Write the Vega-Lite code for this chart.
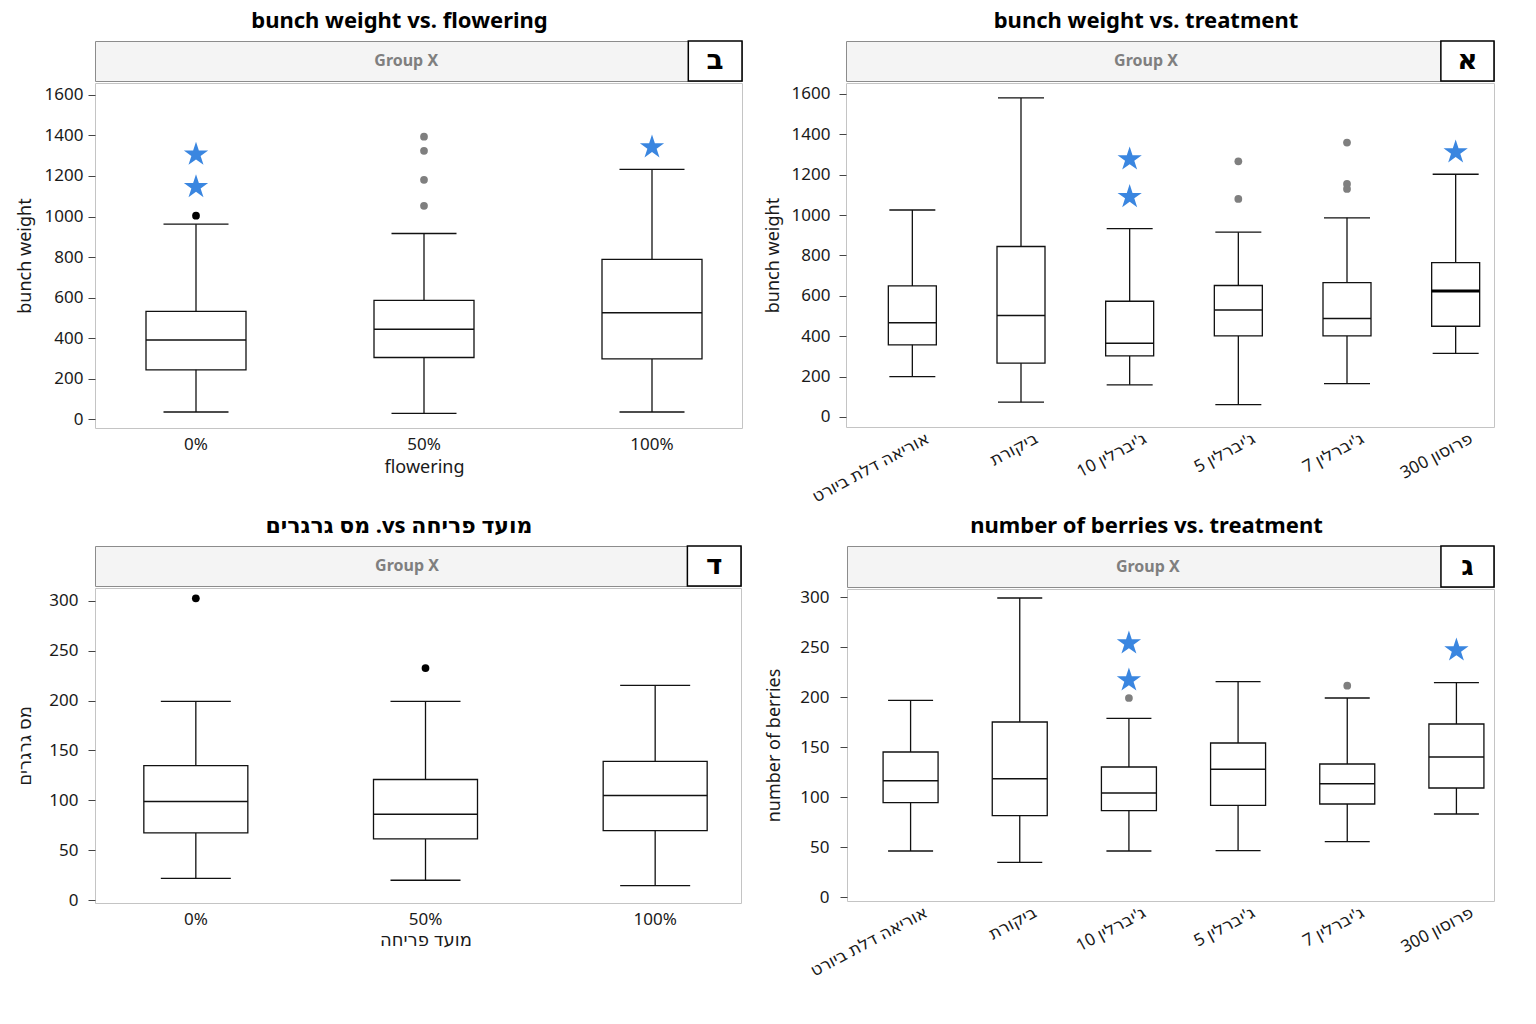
{
  "$schema": "https://vega.github.io/schema/vega-lite/v6.json",
  "background": "white",
  "padding": {"left": 15, "top": 9, "right": 5, "bottom": 5},
  "datasets": {
    "bwf_box": [
      {"group": "0%", "low": 35, "q1": 243, "median": 391, "q3": 532, "high": 962},
      {"group": "50%", "low": 28, "q1": 304, "median": 444, "q3": 586, "high": 916},
      {"group": "100%", "low": 35, "q1": 297, "median": 525, "q3": 788, "high": 1233}
    ],
    "bwf_out": [
      {"group": "0%", "value": 1004, "state": "normal"},
      {"group": "50%", "value": 1394, "state": "dim"},
      {"group": "50%", "value": 1324, "state": "dim"},
      {"group": "50%", "value": 1181, "state": "dim"},
      {"group": "50%", "value": 1053, "state": "dim"}
    ],
    "bwf_star": [
      {"group": "0%", "value": 1306},
      {"group": "0%", "value": 1146},
      {"group": "100%", "value": 1342}
    ],
    "bwt_box": [
      {"group": "אוריאה דלת ביורט", "low": 200, "q1": 357, "median": 467, "q3": 649, "high": 1025},
      {"group": "ביקורת", "low": 73, "q1": 266, "median": 502, "q3": 844, "high": 1580},
      {"group": "ג'יברלין 10", "low": 159, "q1": 302, "median": 365, "q3": 573, "high": 933},
      {"group": "ג'יברלין 5", "low": 61, "q1": 401, "median": 530, "q3": 651, "high": 915},
      {"group": "ג'יברלין 7", "low": 165, "q1": 401, "median": 487, "q3": 665, "high": 986},
      {"group": "פרוסון 300", "low": 315, "q1": 449, "median": 624, "q3": 764, "high": 1202}
    ],
    "bwt_out": [
      {"group": "ג'יברלין 5", "value": 1266, "state": "dim"},
      {"group": "ג'יברלין 5", "value": 1080, "state": "dim"},
      {"group": "ג'יברלין 7", "value": 1359, "state": "dim"},
      {"group": "ג'יברלין 7", "value": 1154, "state": "dim"},
      {"group": "ג'יברלין 7", "value": 1129, "state": "dim"}
    ],
    "bwt_star": [
      {"group": "ג'יברלין 10", "value": 1276},
      {"group": "ג'יברלין 10", "value": 1090},
      {"group": "פרוסון 300", "value": 1311}
    ],
    "nbf_box": [
      {"group": "0%", "low": 21.8, "q1": 67.3, "median": 98.8, "q3": 134.9, "high": 199.2},
      {"group": "50%", "low": 19.8, "q1": 61.3, "median": 86, "q3": 120.9, "high": 199.2},
      {"group": "100%", "low": 14.4, "q1": 69.6, "median": 104.8, "q3": 139, "high": 215.3}
    ],
    "nbf_out": [
      {"group": "0%", "value": 302.7, "state": "normal"},
      {"group": "50%", "value": 232.7, "state": "normal"}
    ],
    "nbt_box": [
      {"group": "אוריאה דלת ביורט", "low": 46, "q1": 94.3, "median": 116.3, "q3": 145, "high": 196.7},
      {"group": "ביקורת", "low": 34.7, "q1": 81.3, "median": 118.3, "q3": 175, "high": 299},
      {"group": "ג'יברלין 10", "low": 46, "q1": 86.3, "median": 104, "q3": 130, "high": 178.7},
      {"group": "ג'יברלין 5", "low": 46.3, "q1": 91.7, "median": 127.7, "q3": 154, "high": 215.3},
      {"group": "ג'יברלין 7", "low": 55.3, "q1": 93, "median": 113.3, "q3": 133, "high": 199},
      {"group": "פרוסון 300", "low": 83, "q1": 109, "median": 140, "q3": 173, "high": 214.3}
    ],
    "nbt_out": [
      {"group": "ג'יברלין 10", "value": 199, "state": "dim"},
      {"group": "ג'יברלין 7", "value": 211.3, "state": "dim"}
    ],
    "nbt_star": [
      {"group": "ג'יברלין 10", "value": 253.7},
      {"group": "ג'יברלין 10", "value": 216.7},
      {"group": "פרוסון 300", "value": 246.7}
    ]
  },
  "config": {
    "font": "'Noto Sans', 'DejaVu Sans', sans-serif",
    "view": {"stroke": "#c4c4c4", "strokeWidth": 1},
    "axis": {
      "labelFont": "'Noto Sans', 'DejaVu Sans', sans-serif",
      "titleFont": "'Noto Sans', 'DejaVu Sans', sans-serif",
      "labelFontSize": 17,
      "labelColor": "#1a1a1a",
      "titleFontSize": 18,
      "titleFontWeight": "normal",
      "titleColor": "#1a1a1a",
      "tickColor": "#444444",
      "domain": false,
      "grid": false
    },
    "title": {"fontSize": 22, "fontWeight": "bold", "color": "#000000", "offset": 7, "anchor": "middle", "frame": "group"},
    "text": {"font": "'Noto Sans', 'DejaVu Sans', sans-serif"}
  },
  "spacing": 8,
  "vconcat": [
    {
      "spacing": -17,
      "hconcat": [
        {
          "spacing": -6,
          "vconcat": [
            {
              "title": {"text": "bunch weight vs. flowering", "dx": -19},
              "width": 647, "height": 40,
              "data": {"values": [{}]},
              "view": {"fill": "#f4f4f4", "stroke": "#8c8c8c"},
              "layer": [
                {"mark": {"type": "text", "text": "Group X", "fontSize": 16, "fontWeight": "bold", "color": "#7f7f7f"},
                 "encoding": {"x": {"datum": 0.481, "type": "quantitative", "scale": {"domain": [0, 1]}, "axis": null},
                              "y": {"datum": 0.5, "type": "quantitative", "scale": {"domain": [0, 1]}, "axis": null}}},
                {"mark": {"type": "rect", "fill": "white", "stroke": "black", "strokeWidth": 1.5},
                 "encoding": {"x": {"datum": 0.917, "type": "quantitative"}, "x2": {"datum": 1},
                              "y": {"datum": 0, "type": "quantitative"}, "y2": {"datum": 1}}},
                {"mark": {"type": "text", "text": "ב", "fontSize": 28, "fontWeight": "bold", "color": "black"},
                 "encoding": {"x": {"datum": 0.9585, "type": "quantitative"}, "y": {"datum": 0.5, "type": "quantitative"}}}
              ]
            },
            {
              "width": 647, "height": 345,
              "encoding": {
                "x": {"field": "group", "type": "nominal", "sort": null,
                      "scale": {"domain": ["0%", "50%", "100%"], "range": [-13, 671], "paddingInner": 0, "paddingOuter": 0},
                      "axis": {"title": "flowering", "labelAngle": 0, "ticks": false, "labelPadding": 8, "titlePadding": 6}}
              },
              "layer": [
                {"data": {"name": "bwf_box"}, "mark": {"type": "rule", "color": "#111111", "strokeWidth": 1.3},
                 "encoding": {"y": {"field": "low", "type": "quantitative", "title": "bunch weight",
                                    "scale": {"domain": [-44, 1659], "nice": false, "zero": false},
                                    "axis": {"values": [0,100,200,300,400,500,600,700,800,900,1000,1100,1200,1300,1400,1500,1600], "format": "d",
                                             "labelExpr": "datum.value % 200 == 0 ? datum.label : ''",
                                             "tickSize": {"condition": {"test": "datum.value % 200 == 0", "value": 7}, "value": 4},
                                             "labelPadding": 5, "minExtent": 52, "maxExtent": 52, "titlePadding": 9}},
                              "y2": {"field": "high"}}},
                {"data": {"name": "bwf_box"}, "mark": {"type": "bar", "width": 100, "fill": "white", "stroke": "#111111", "strokeWidth": 1.3},
                 "encoding": {"y": {"field": "q1", "type": "quantitative"}, "y2": {"field": "q3"}}},
                {"data": {"name": "bwf_box"}, "mark": {"type": "tick", "size": 100, "thickness": 1.5, "color": "#111111", "opacity": 1},
                 "encoding": {"y": {"field": "median", "type": "quantitative"}}},
                {"data": {"name": "bwf_box"}, "mark": {"type": "tick", "size": 65, "thickness": 1.3, "color": "#111111", "opacity": 1},
                 "encoding": {"y": {"field": "low", "type": "quantitative"}}},
                {"data": {"name": "bwf_box"}, "mark": {"type": "tick", "size": 65, "thickness": 1.3, "color": "#111111", "opacity": 1},
                 "encoding": {"y": {"field": "high", "type": "quantitative"}}},
                {"data": {"name": "bwf_out"}, "mark": {"type": "point", "filled": true, "size": 60, "opacity": 1},
                 "encoding": {"y": {"field": "value", "type": "quantitative"},
                              "color": {"field": "state", "type": "nominal", "scale": {"domain": ["normal", "dim"], "range": ["#000000", "#7f7f7f"]}, "legend": null}}},
                {"data": {"name": "bwf_star"}, "mark": {"type": "point", "filled": true, "size": 650, "opacity": 1, "color": "#3a86e0", "strokeWidth": 0,
                   "shape": "M0,-1L0.2245,-0.309L0.951,-0.309L0.363,0.118L0.588,0.809L0,0.382L-0.588,0.809L-0.363,0.118L-0.951,-0.309L-0.2245,-0.309Z"},
                 "encoding": {"y": {"field": "value", "type": "quantitative"}}}
              ]
            }
          ]
        },
        {
          "spacing": -6,
          "vconcat": [
            {
              "title": {"text": "bunch weight vs. treatment", "dx": -24},
              "width": 648, "height": 40,
              "data": {"values": [{}]},
              "view": {"fill": "#f4f4f4", "stroke": "#8c8c8c"},
              "layer": [
                {"mark": {"type": "text", "text": "Group X", "fontSize": 16, "fontWeight": "bold", "color": "#7f7f7f"},
                 "encoding": {"x": {"datum": 0.463, "type": "quantitative", "scale": {"domain": [0, 1]}, "axis": null},
                              "y": {"datum": 0.5, "type": "quantitative", "scale": {"domain": [0, 1]}, "axis": null}}},
                {"mark": {"type": "rect", "fill": "white", "stroke": "black", "strokeWidth": 1.5},
                 "encoding": {"x": {"datum": 0.918, "type": "quantitative"}, "x2": {"datum": 1},
                              "y": {"datum": 0, "type": "quantitative"}, "y2": {"datum": 1}}},
                {"mark": {"type": "text", "text": "א", "fontSize": 28, "fontWeight": "bold", "color": "black"},
                 "encoding": {"x": {"datum": 0.959, "type": "quantitative"}, "y": {"datum": 0.5, "type": "quantitative"}}}
              ]
            },
            {
              "width": 648, "height": 344,
              "encoding": {
                "x": {"field": "group", "type": "nominal", "sort": null,
                      "scale": {"domain": ["אוריאה דלת ביורט", "ביקורת", "ג'יברלין 10", "ג'יברלין 5", "ג'יברלין 7", "פרוסון 300"], "range": [12, 664], "paddingInner": 0, "paddingOuter": 0},
                      "axis": {"title": null, "labelAngle": -28, "labelOffset": 12, "ticks": false, "labelPadding": 3, "labelOverlap": false, "labelBound": false}}
              },
              "layer": [
                {"data": {"name": "bwt_box"}, "mark": {"type": "rule", "color": "#111111", "strokeWidth": 1.3},
                 "encoding": {"y": {"field": "low", "type": "quantitative", "title": "bunch weight",
                                    "scale": {"domain": [-50, 1654], "nice": false, "zero": false},
                                    "axis": {"values": [0,100,200,300,400,500,600,700,800,900,1000,1100,1200,1300,1400,1500,1600], "format": "d",
                                             "labelExpr": "datum.value % 200 == 0 ? datum.label : ''",
                                             "tickSize": {"condition": {"test": "datum.value % 200 == 0", "value": 7}, "value": 4},
                                             "labelPadding": 9, "minExtent": 55, "maxExtent": 55, "titlePadding": 9}},
                              "y2": {"field": "high"}}},
                {"data": {"name": "bwt_box"}, "mark": {"type": "bar", "width": 48, "fill": "white", "stroke": "#111111", "strokeWidth": 1.3},
                 "encoding": {"y": {"field": "q1", "type": "quantitative"}, "y2": {"field": "q3"}}},
                {"data": {"name": "bwt_box"}, "transform": [{"filter": "datum.group != 'פרוסון 300'"}],
                 "mark": {"type": "tick", "size": 48, "thickness": 1.5, "color": "#111111", "opacity": 1},
                 "encoding": {"y": {"field": "median", "type": "quantitative"}}},
                {"data": {"name": "bwt_box"}, "transform": [{"filter": "datum.group == 'פרוסון 300'"}],
                 "mark": {"type": "tick", "size": 48, "thickness": 3, "color": "#000000", "opacity": 1},
                 "encoding": {"y": {"field": "median", "type": "quantitative"}}},
                {"data": {"name": "bwt_box"}, "mark": {"type": "tick", "size": 46, "thickness": 1.3, "color": "#111111", "opacity": 1},
                 "encoding": {"y": {"field": "low", "type": "quantitative"}}},
                {"data": {"name": "bwt_box"}, "mark": {"type": "tick", "size": 46, "thickness": 1.3, "color": "#111111", "opacity": 1},
                 "encoding": {"y": {"field": "high", "type": "quantitative"}}},
                {"data": {"name": "bwt_out"}, "mark": {"type": "point", "filled": true, "size": 60, "opacity": 1},
                 "encoding": {"y": {"field": "value", "type": "quantitative"},
                              "color": {"field": "state", "type": "nominal", "scale": {"domain": ["normal", "dim"], "range": ["#000000", "#7f7f7f"]}, "legend": null}}},
                {"data": {"name": "bwt_star"}, "mark": {"type": "point", "filled": true, "size": 650, "opacity": 1, "color": "#3a86e0", "strokeWidth": 0,
                   "shape": "M0,-1L0.2245,-0.309L0.951,-0.309L0.363,0.118L0.588,0.809L0,0.382L-0.588,0.809L-0.363,0.118L-0.951,-0.309L-0.2245,-0.309Z"},
                 "encoding": {"y": {"field": "value", "type": "quantitative"}}}
              ]
            }
          ]
        }
      ]
    },
    {
      "spacing": -21,
      "hconcat": [
        {
          "spacing": -6,
          "vconcat": [
            {
              "title": {"text": "\u202bמועד פריחה vs. מס גרגרים\u202c", "dx": -19},
              "width": 646, "height": 40,
              "data": {"values": [{}]},
              "view": {"fill": "#f4f4f4", "stroke": "#8c8c8c"},
              "layer": [
                {"mark": {"type": "text", "text": "Group X", "fontSize": 16, "fontWeight": "bold", "color": "#7f7f7f"},
                 "encoding": {"x": {"datum": 0.483, "type": "quantitative", "scale": {"domain": [0, 1]}, "axis": null},
                              "y": {"datum": 0.5, "type": "quantitative", "scale": {"domain": [0, 1]}, "axis": null}}},
                {"mark": {"type": "rect", "fill": "white", "stroke": "black", "strokeWidth": 1.5},
                 "encoding": {"x": {"datum": 0.917, "type": "quantitative"}, "x2": {"datum": 1},
                              "y": {"datum": 0, "type": "quantitative"}, "y2": {"datum": 1}}},
                {"mark": {"type": "text", "text": "ד", "fontSize": 28, "fontWeight": "bold", "color": "black"},
                 "encoding": {"x": {"datum": 0.9585, "type": "quantitative"}, "y": {"datum": 0.5, "type": "quantitative"}}}
              ]
            },
            {
              "width": 646, "height": 315,
              "encoding": {
                "x": {"field": "group", "type": "nominal", "sort": null,
                      "scale": {"domain": ["0%", "50%", "100%"], "range": [-14, 675], "paddingInner": 0, "paddingOuter": 0},
                      "axis": {"title": "מועד פריחה", "labelAngle": 0, "ticks": false, "labelPadding": 8, "titlePadding": 4}}
              },
              "layer": [
                {"data": {"name": "nbf_box"}, "mark": {"type": "rule", "color": "#111111", "strokeWidth": 1.3},
                 "encoding": {"y": {"field": "low", "type": "quantitative", "title": "מס גרגרים",
                                    "scale": {"domain": [-3, 313], "nice": false, "zero": false},
                                    "axis": {"values": [0,25,50,75,100,125,150,175,200,225,250,275,300], "format": "d",
                                             "labelExpr": "datum.value % 50 == 0 ? datum.label : ''",
                                             "tickSize": {"condition": {"test": "datum.value % 50 == 0", "value": 7}, "value": 4},
                                             "labelPadding": 10, "minExtent": 52, "maxExtent": 52, "titlePadding": 9}},
                              "y2": {"field": "high"}}},
                {"data": {"name": "nbf_box"}, "mark": {"type": "bar", "width": 104, "fill": "white", "stroke": "#111111", "strokeWidth": 1.3},
                 "encoding": {"y": {"field": "q1", "type": "quantitative"}, "y2": {"field": "q3"}}},
                {"data": {"name": "nbf_box"}, "mark": {"type": "tick", "size": 104, "thickness": 1.5, "color": "#111111", "opacity": 1},
                 "encoding": {"y": {"field": "median", "type": "quantitative"}}},
                {"data": {"name": "nbf_box"}, "mark": {"type": "tick", "size": 70, "thickness": 1.3, "color": "#111111", "opacity": 1},
                 "encoding": {"y": {"field": "low", "type": "quantitative"}}},
                {"data": {"name": "nbf_box"}, "mark": {"type": "tick", "size": 70, "thickness": 1.3, "color": "#111111", "opacity": 1},
                 "encoding": {"y": {"field": "high", "type": "quantitative"}}},
                {"data": {"name": "nbf_out"}, "mark": {"type": "point", "filled": true, "size": 60, "opacity": 1},
                 "encoding": {"y": {"field": "value", "type": "quantitative"},
                              "color": {"field": "state", "type": "nominal", "scale": {"domain": ["normal", "dim"], "range": ["#000000", "#7f7f7f"]}, "legend": null}}}
              ]
            }
          ]
        },
        {
          "spacing": -6,
          "vconcat": [
            {
              "title": {"text": "number of berries vs. treatment", "dx": -24},
              "width": 647, "height": 41,
              "data": {"values": [{}]},
              "view": {"fill": "#f4f4f4", "stroke": "#8c8c8c"},
              "layer": [
                {"mark": {"type": "text", "text": "Group X", "fontSize": 16, "fontWeight": "bold", "color": "#7f7f7f"},
                 "encoding": {"x": {"datum": 0.465, "type": "quantitative", "scale": {"domain": [0, 1]}, "axis": null},
                              "y": {"datum": 0.5, "type": "quantitative", "scale": {"domain": [0, 1]}, "axis": null}}},
                {"mark": {"type": "rect", "fill": "white", "stroke": "black", "strokeWidth": 1.5},
                 "encoding": {"x": {"datum": 0.918, "type": "quantitative"}, "x2": {"datum": 1},
                              "y": {"datum": 0, "type": "quantitative"}, "y2": {"datum": 1}}},
                {"mark": {"type": "text", "text": "ג", "fontSize": 28, "fontWeight": "bold", "color": "black"},
                 "encoding": {"x": {"datum": 0.959, "type": "quantitative"}, "y": {"datum": 0.5, "type": "quantitative"}}}
              ]
            },
            {
              "width": 647, "height": 312,
              "encoding": {
                "x": {"field": "group", "type": "nominal", "sort": null,
                      "scale": {"domain": ["אוריאה דלת ביורט", "ביקורת", "ג'יברלין 10", "ג'יברלין 5", "ג'יברלין 7", "פרוסון 300"], "range": [9, 664], "paddingInner": 0, "paddingOuter": 0},
                      "axis": {"title": null, "labelAngle": -28, "labelOffset": 12, "ticks": false, "labelPadding": 3, "labelOverlap": false, "labelBound": false}}
              },
              "layer": [
                {"data": {"name": "nbt_box"}, "mark": {"type": "rule", "color": "#111111", "strokeWidth": 1.3},
                 "encoding": {"y": {"field": "low", "type": "quantitative", "title": "number of berries",
                                    "scale": {"domain": [-4, 308], "nice": false, "zero": false},
                                    "axis": {"values": [0,25,50,75,100,125,150,175,200,225,250,275,300], "format": "d",
                                             "labelExpr": "datum.value % 50 == 0 ? datum.label : ''",
                                             "tickSize": {"condition": {"test": "datum.value % 50 == 0", "value": 7}, "value": 4},
                                             "labelPadding": 11, "minExtent": 55, "maxExtent": 55, "titlePadding": 9}},
                              "y2": {"field": "high"}}},
                {"data": {"name": "nbt_box"}, "mark": {"type": "bar", "width": 55, "fill": "white", "stroke": "#111111", "strokeWidth": 1.3},
                 "encoding": {"y": {"field": "q1", "type": "quantitative"}, "y2": {"field": "q3"}}},
                {"data": {"name": "nbt_box"}, "mark": {"type": "tick", "size": 55, "thickness": 1.5, "color": "#111111", "opacity": 1},
                 "encoding": {"y": {"field": "median", "type": "quantitative"}}},
                {"data": {"name": "nbt_box"}, "mark": {"type": "tick", "size": 45, "thickness": 1.3, "color": "#111111", "opacity": 1},
                 "encoding": {"y": {"field": "low", "type": "quantitative"}}},
                {"data": {"name": "nbt_box"}, "mark": {"type": "tick", "size": 45, "thickness": 1.3, "color": "#111111", "opacity": 1},
                 "encoding": {"y": {"field": "high", "type": "quantitative"}}},
                {"data": {"name": "nbt_out"}, "mark": {"type": "point", "filled": true, "size": 60, "opacity": 1},
                 "encoding": {"y": {"field": "value", "type": "quantitative"},
                              "color": {"field": "state", "type": "nominal", "scale": {"domain": ["normal", "dim"], "range": ["#000000", "#7f7f7f"]}, "legend": null}}},
                {"data": {"name": "nbt_star"}, "mark": {"type": "point", "filled": true, "size": 650, "opacity": 1, "color": "#3a86e0", "strokeWidth": 0,
                   "shape": "M0,-1L0.2245,-0.309L0.951,-0.309L0.363,0.118L0.588,0.809L0,0.382L-0.588,0.809L-0.363,0.118L-0.951,-0.309L-0.2245,-0.309Z"},
                 "encoding": {"y": {"field": "value", "type": "quantitative"}}}
              ]
            }
          ]
        }
      ]
    }
  ]
}
